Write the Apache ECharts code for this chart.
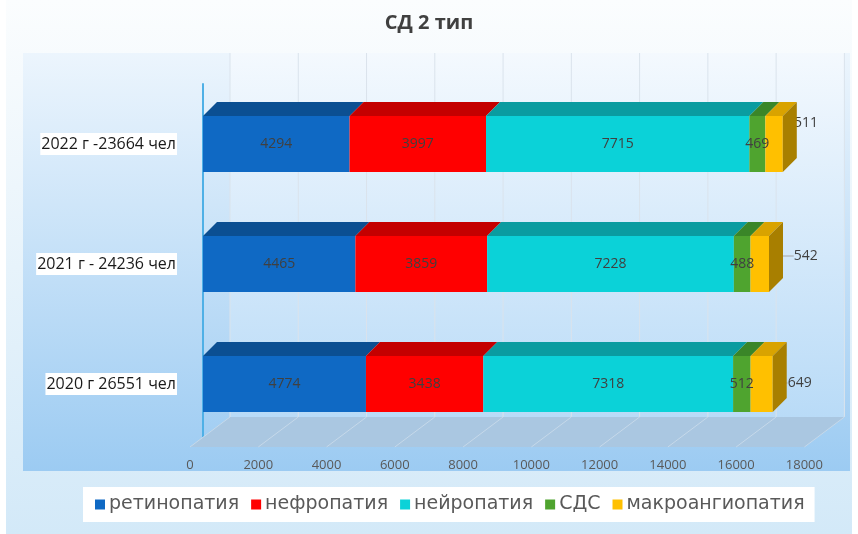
<!DOCTYPE html>
<html>
<head>
<meta charset="utf-8">
<script src="https://cdn.jsdelivr.net/npm/echarts@6/dist/echarts.min.js"></script>
<style>
  html, body { margin: 0; padding: 0; background: #fff; }
  #chart { width: 858px; height: 534px; }
</style>
</head>
<body>
<div id="chart"></div>
<script>
// данные
const categories = ['2020 г 26551 чел', '2021 г - 24236 чел', '2022 г -23664 чел'];
const seriesNames = ['ретинопатия', 'нефропатия', 'нейропатия', 'СДС', 'макроангиопатия'];
const retinopathy = [4774, 4465, 4294];
const nephropathy = [3438, 3859, 3997];
const neuropathy = [7318, 7228, 7715];
const sds = [512, 488, 469];
const macroangiopathy = [649, 542, 511];
const xTicks = [0, 2000, 4000, 6000, 8000, 10000, 12000, 14000, 16000, 18000];

const values = [retinopathy, nephropathy, neuropathy, sds, macroangiopathy];
const frontColors = ['#0f69c4', '#ff0000', '#0bd2d8', '#4fa42f', '#ffc000'];
const topColors = ['#0b4f92', '#c40000', '#0a9ca0', '#3a8628', '#d9a300'];
const sideColor = '#a87f00';

const BAR_W = 56;
const DX = 14, DY = -14;      // глубина столбиков
const FLOOR_SHIFT = -13;      // передний край пола относительно передней грани
const WALL_DX = 40, WALL_DY = -30;
const FONT = '"Open Sans", "DejaVu Sans", sans-serif';
const WIDE_FONT = '"DejaVu Sans", sans-serif';

// сегменты для верхних граней
const faces = [];
categories.forEach((c, ci) => {
  let acc = 0;
  values.forEach((arr, si) => {
    faces.push([ci, si, acc, acc + arr[ci]]);
    acc += arr[ci];
  });
});

// смещения подписей макроангиопатии (вынесены вправо)
const outerLabelShift = [[38, -1], [46, -8], [32, -21]];

const chart = echarts.init(document.getElementById('chart'));

const barSeries = seriesNames.map((name, si) => {
  const s = {
    name: name,
    type: 'bar',
    stack: 'total',
    xAxisIndex: 0,
    yAxisIndex: 0,
    barWidth: BAR_W,
    z: 3,
    data: values[si],
    itemStyle: { color: frontColors[si] },
    label: {
      show: true,
      position: 'inside',
      color: '#404040',
      fontSize: 14,
      fontFamily: FONT
    }
  };
  if (si === 4) {
    s.labelLayout = function (p) {
      const d = outerLabelShift[p.dataIndex];
      return { dx: d[0], dy: d[1] };
    };
    s.labelLine = { show: true, lineStyle: { color: '#a6a6a6', width: 1 } };
  }
  return s;
});

const option = {
  animation: false,
  title: {
    text: 'СД 2 тип',
    left: 'center',
    top: 8,
    textStyle: { fontSize: 20, fontWeight: 'bold', color: '#404040', fontFamily: FONT }
  },
  graphic: [
    {
      type: 'rect', z: -10,
      shape: { x: 6, y: 0, width: 846, height: 534 },
      style: {
        fill: new echarts.graphic.LinearGradient(0, 0, 0, 1, [
          { offset: 0, color: '#fbfdfe' },
          { offset: 1, color: '#d3e9f8' }
        ])
      }
    },
    {
      type: 'rect', z: -9,
      shape: { x: 23, y: 53, width: 827, height: 418 },
      style: {
        fill: new echarts.graphic.LinearGradient(0, 0, 0, 1, [
          { offset: 0, color: '#ecf5fd' },
          { offset: 1, color: '#9ccbf2' }
        ])
      }
    }
  ],
  legend: {
    data: seriesNames,
    left: 83,
    top: 487,
    backgroundColor: '#ffffff',
    padding: [8, 10, 8, 12],
    itemGap: 12,
    itemWidth: 10,
    itemHeight: 10,
    icon: 'rect',
    textStyle: { fontSize: 19, color: '#595959', fontFamily: WIDE_FONT, padding: [0, 0, 0, -1] }
  },
  grid: [
    { left: 203, top: 84, width: 614.4, height: 360 },
    { left: 190, top: 84, width: 614.4, height: 363 }
  ],
  xAxis: [
    { type: 'value', gridIndex: 0, min: 0, max: 18000, interval: 2000, show: false },
    {
      type: 'value', gridIndex: 1, min: 0, max: 18000, interval: 2000,
      axisLine: { show: false }, axisTick: { show: false }, splitLine: { show: false },
      axisLabel: {
        margin: 12, color: '#595959', fontSize: 13, fontFamily: FONT,
        formatter: v => String(v)
      }
    }
  ],
  yAxis: [
    {
      type: 'category', gridIndex: 0, data: categories, offset: 13,
      axisLine: { show: true, lineStyle: { color: '#4fb0e6', width: 2 } },
      axisTick: { show: false },
      axisLabel: {
        margin: 13, color: '#1a1a1a', fontSize: 16, fontFamily: FONT,
        backgroundColor: '#ffffff', padding: [3, 1, 3, 1]
      }
    },
    { type: 'value', gridIndex: 1, show: false }
  ],
  series: [
    // задняя стенка и пол
    {
      type: 'custom',
      xAxisIndex: 0, yAxisIndex: 0,
      z: 1, silent: true,
      data: [[0, 18000]],
      renderItem: function (params, api) {
        const band = api.size([0, 1])[1];
        const yFront = api.coord([0, 0])[1] + band / 2 + 3;
        const xa = api.coord([api.value(0), 0])[0] + FLOOR_SHIFT;
        const xb = api.coord([api.value(1), 0])[0] + FLOOR_SHIFT;
        const yBack = yFront + WALL_DY;
        return {
          type: 'group',
          children: [
            {
              type: 'rect',
              shape: { x: xa + WALL_DX, y: 53, width: xb - xa, height: yBack - 53 },
              style: {
                fill: new echarts.graphic.LinearGradient(0, 0, 0, 1, [
                  { offset: 0, color: '#f4f9fe' },
                  { offset: 1, color: '#b9dbf7' }
                ])
              }
            },
            {
              type: 'polygon',
              shape: { points: [[xa, yFront], [xb, yFront], [xb + WALL_DX, yBack], [xa + WALL_DX, yBack]] },
              style: { fill: '#aac7e1' }
            }
          ]
        };
      }
    },
    // линии сетки
    {
      type: 'custom',
      xAxisIndex: 0, yAxisIndex: 0,
      z: 1, silent: true,
      data: xTicks.map(v => [v]),
      renderItem: function (params, api) {
        const band = api.size([0, 1])[1];
        const yFront = api.coord([0, 0])[1] + band / 2 + 3;
        const x = api.coord([api.value(0), 0])[0] + FLOOR_SHIFT;
        const yBack = yFront + WALL_DY;
        return {
          type: 'group',
          children: [
            {
              type: 'line',
              shape: { x1: x + WALL_DX, y1: 53, x2: x + WALL_DX, y2: yBack },
              style: { stroke: '#dae3ec', lineWidth: 1 }
            },
            {
              type: 'line',
              shape: { x1: x, y1: yFront, x2: x + WALL_DX, y2: yBack },
              style: { stroke: '#c6d9ea', lineWidth: 1 }
            }
          ]
        };
      }
    },
    ...barSeries,
    // верхние и боковые грани
    {
      type: 'custom',
      xAxisIndex: 0, yAxisIndex: 0,
      z: 4, silent: true,
      data: faces,
      encode: { x: [2, 3], y: 0 },
      renderItem: function (params, api) {
        const ci = api.value(0), si = api.value(1);
        const p0 = api.coord([api.value(2), ci]);
        const p1 = api.coord([api.value(3), ci]);
        const yT = p0[1] - BAR_W / 2, yB = p0[1] + BAR_W / 2;
        const children = [{
          type: 'polygon',
          shape: { points: [[p0[0], yT], [p1[0], yT], [p1[0] + DX, yT + DY], [p0[0] + DX, yT + DY]] },
          style: { fill: topColors[si] }
        }];
        if (si === values.length - 1) {
          children.push({
            type: 'polygon',
            shape: { points: [[p1[0], yT], [p1[0] + DX, yT + DY], [p1[0] + DX, yB + DY], [p1[0], yB]] },
            style: { fill: sideColor }
          });
        }
        return { type: 'group', children: children };
      }
    }
  ]
};

chart.setOption(option);
</script>
</body>
</html>
